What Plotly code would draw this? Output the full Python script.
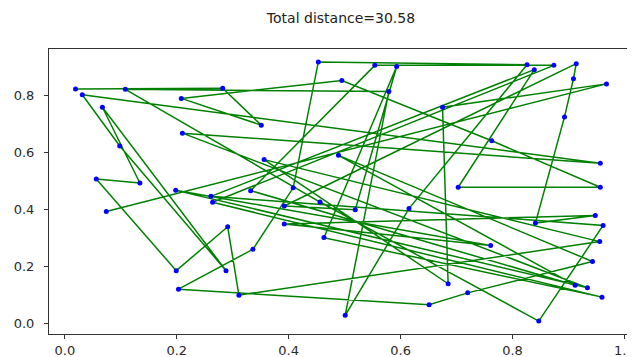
import plotly.graph_objects as go

# City coordinates (index 1..62 -> list position 0..61)
city_x = [0.019, 0.108, 0.282, 0.031, 0.208, 0.067, 0.210, 0.098, 0.056, 0.134,
          0.453, 0.554, 0.593, 0.495, 0.579, 0.351, 0.356, 0.489, 0.332, 0.408,
          0.826, 0.839, 0.874, 0.914, 0.909, 0.968, 0.675, 0.893, 0.763, 0.957,
          0.957, 0.703, 0.198, 0.261, 0.264, 0.074, 0.291, 0.199, 0.288, 0.203,
          0.311, 0.456, 0.392, 0.519, 0.615, 0.392, 0.463, 0.336, 0.501, 0.651,
          0.948, 0.841, 0.962, 0.956, 0.761, 0.943, 0.685, 0.720, 0.912, 0.934,
          0.960, 0.847]
city_y = [0.822, 0.821, 0.825, 0.802, 0.789, 0.758, 0.667, 0.622, 0.506, 0.492,
          0.917, 0.905, 0.901, 0.852, 0.813, 0.695, 0.574, 0.589, 0.465, 0.475,
          0.907, 0.890, 0.905, 0.911, 0.858, 0.840, 0.758, 0.724, 0.640, 0.561,
          0.477, 0.477, 0.466, 0.445, 0.424, 0.392, 0.338, 0.184, 0.184, 0.119,
          0.098, 0.425, 0.411, 0.398, 0.402, 0.348, 0.300, 0.259, 0.027, 0.064,
          0.378, 0.351, 0.343, 0.286, 0.272, 0.216, 0.138, 0.106, 0.133, 0.124,
          0.091, 0.007]

# Visiting order of the tour (1-based city numbers)
route = [1, 3, 16, 5, 14, 29, 31, 32, 22, 34, 53, 62, 42, 2, 15, 49, 45, 21, 11, 20,
         48, 40, 50, 58, 56, 18, 59, 19, 12, 23, 35, 61, 47, 13, 44, 43, 24, 25, 28, 52,
         51, 46, 55, 33, 60, 7, 30, 4, 8, 39, 6, 10, 9, 38, 37, 41, 54, 17, 57, 27,
         26, 36]

title_text = "Total distance=30.58"
tick_vals = [0.0, 0.2, 0.4, 0.6, 0.8, 1.0]
tick_text = ["0.0", "0.2", "0.4", "0.6", "0.8", "1.0"]

path_x = [city_x[i - 1] for i in route]
path_y = [city_y[i - 1] for i in route]

fig = go.Figure()
fig.add_trace(go.Scatter(x=path_x, y=path_y, mode="lines",
                         line=dict(color="#008000", width=1.5),
                         hoverinfo="skip", showlegend=False))
fig.add_trace(go.Scatter(x=city_x, y=city_y, mode="markers",
                         marker=dict(color="#0000ff", size=5),
                         showlegend=False))

def lims(v):
    lo, hi = min(v), max(v)
    m = 0.05 * (hi - lo)
    return [lo - m, hi + m]

axis_common = dict(showgrid=False, zeroline=False, showline=True, mirror=True,
                   linecolor="#333333", linewidth=1, ticks="outside", ticklen=4,
                   tickcolor="#333333", tickvals=tick_vals, ticktext=tick_text,
                   automargin=False,
                   tickfont=dict(family="DejaVu Sans", size=13, color="#2a2a2a"))

# the page body has an 8px default margin, so the figure is sized/offset for it
fig.update_layout(
    width=627, height=349,
    margin=dict(l=41, r=2, t=41, b=23),
    paper_bgcolor="white", plot_bgcolor="white",
    title=dict(text=title_text, x=0.5, xref="paper", y=1 - 10 / 349, yref="container",
               xanchor="center", yanchor="middle",
               font=dict(family="DejaVu Sans", size=14, color="#222222")),
    xaxis=dict(range=lims(city_x), ticklabelstandoff=0, **axis_common),
    yaxis=dict(range=lims(city_y), ticklabelstandoff=7, **axis_common),
)

fig.write_html("out.html")
